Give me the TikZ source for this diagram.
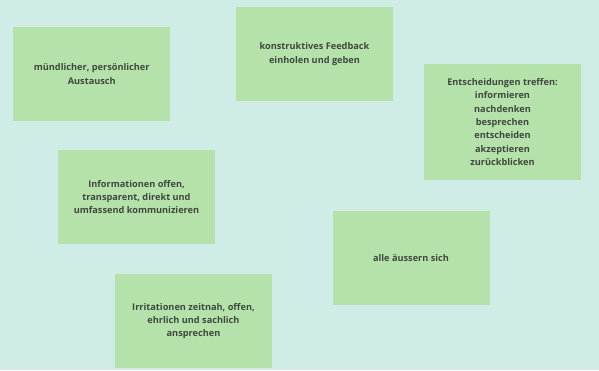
\documentclass[tikz,border=0pt]{standalone}
\usepackage{fontspec}
\setmainfont{Open Sans}
\usetikzlibrary{positioning}
\definecolor{fondo}{HTML}{CFECE6}
\definecolor{nota}{HTML}{B5E2AA}
\definecolor{testo}{HTML}{3E483E}
\tikzset{notiz/.style={draw=none,fill=nota,minimum width=157pt,minimum height=94pt,align=center,text=testo,font=\fontsize{9.2}{13.3}\selectfont\bfseries,inner sep=0pt}}
\tikzset{hoch/.style={minimum height=116pt}}

\begin{document}
\begin{tikzpicture}[
                x = 1pt, y = -1pt,
                every node/.style={notiz}
            ]
                \fill[fondo] (0,0) rectangle (599,370);
                \node[](1) at (91.75,74) {mündlicher, persönlicher\\Austausch};
                \node[](2) at (314.5,54) {konstruktives Feedback\\einholen und geben};
                \node[hoch](3) at (502.5,122) {Entscheidungen treffen:\\informieren\\nachdenken\\besprechen\\entscheiden\\akzeptieren\\zurückblicken};
                \node[](4) at (136.5,197) {Informationen offen,\\transparent, direkt und\\umfassend kommunizieren};
                \node[](5) at (411,258) {alle äussern sich};
                \node[](6) at (193.5,321) {Irritationen zeitnah, offen,\\ehrlich und sachlich\\ansprechen};
            \end{tikzpicture}
\end{document}
